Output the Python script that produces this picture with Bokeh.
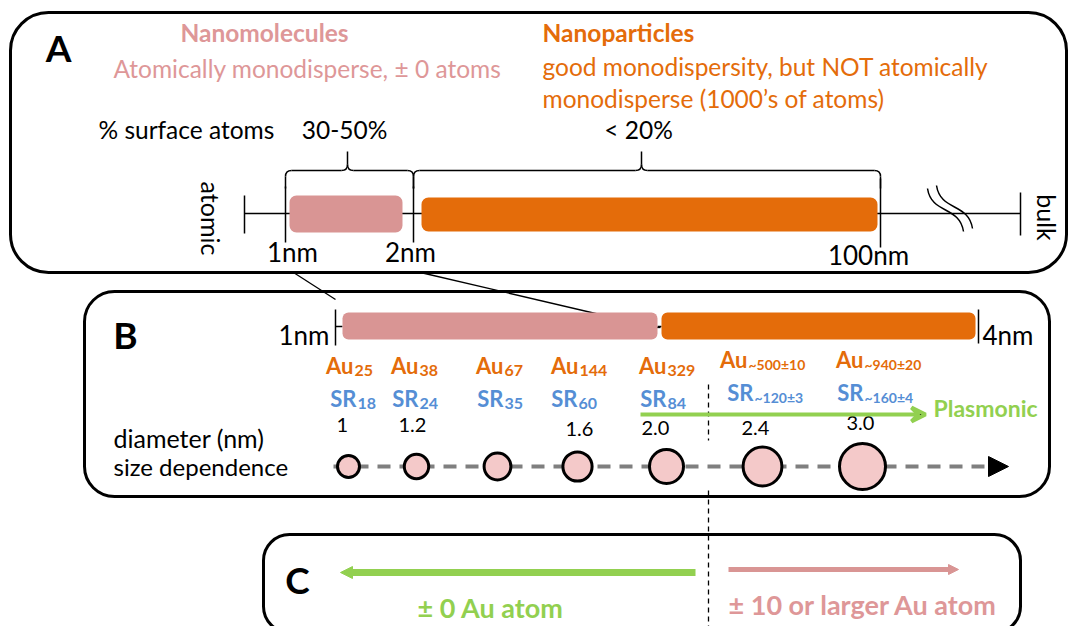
import numpy as np
from bokeh.plotting import figure
from bokeh.models import Range1d, BoxAnnotation, Arrow, VeeHead, NormalHead
from bokeh.core.properties import value
from bokeh.embed import file_html
from bokeh.resources import INLINE

# ------------------------------------------------------------------ data
class_names = ["Nanomolecules", "Nanoparticles"]
class_notes = [["Atomically monodisperse, ± 0 atoms"],
               ["good monodispersity, but NOT atomically",
                "monodisperse (1000’s of atoms)"]]
class_start_nm = [1, 2]
class_end_nm = [2, 100]
surface_atoms = ["30-50%", "< 20%"]
a_tick_nm = [1, 2, 100]
a_tick_labels = ["1nm", "2nm", "100nm"]
a_end_labels = ["atomic", "bulk"]
b_tick_labels = ["1nm", "4nm"]

au_atoms = ["25", "38", "67", "144", "329", "~500±10", "~940±20"]
sr_ligands = ["18", "24", "35", "60", "84", "~120±3", "~160±4"]
diameter_labels = ["1", "1.2", "", "1.6", "2.0", "2.4", "3.0"]
diameter_nm = [1.0, 1.2, 1.4, 1.6, 2.0, 2.4, 3.0]
regime_labels = ["± 0 Au atom", "± 10 or larger Au atom"]

# ------------------------------------------------------------------ layout / style
W, H = 1068, 626
FONT = value("Lato")
PINK_BAR = "#D99594"
PINK_TXT = "#DE9798"
ORANGE = "#E46C0A"
BLUE = "#558ED5"
GREEN = "#92D050"
FILL = "#F4C9C9"
GRAY = "#7F7F7F"

a_px = {1: 285, 2: 413, 100: 880}          # panel A axis positions

p = figure(width=W, height=H, x_range=Range1d(0, W), y_range=Range1d(H, 0),
           output_backend="svg", toolbar_location=None, min_border=0,
           x_axis_location=None, y_axis_location=None)
p.grid.visible = False
p.outline_line_color = None
p.background_fill_color = "white"


def txt(x, y, s, size, color="black", bold=False, align="left", angle=0.0):
    p.text(x=[x], y=[y], text=[s], text_font=FONT, text_font_size=f"{size}px",
           text_color=color, text_align=align, text_baseline="middle",
           text_font_style="bold" if bold else "normal", angle=angle)


# ------------------------------------------------------------------ panels
for (l, r, t, b, rad) in [(10, 1066, 12, 272, 38), (84, 1049, 291, 496, 30),
                          (263, 1020, 534, 632, 26)]:
    p.add_layout(BoxAnnotation(left=l, right=r, top=t, bottom=b, fill_alpha=0,
                               line_color="black", line_width=3, line_alpha=1,
                               border_radius=rad))

txt(58, 47, "A", 37, bold=True, align="center")
txt(125, 334, "B", 37, bold=True, align="center")
txt(297, 579, "C", 37, bold=True, align="center")

# ------------------------------------------------------------------ panel A texts
txt(264, 32, class_names[0], 24.5, PINK_TXT, bold=True, align="center")
txt(113, 68, class_notes[0][0], 24.5, PINK_TXT)
txt(542, 32, class_names[1], 24.5, ORANGE, bold=True)
txt(542, 66, class_notes[1][0], 24.5, ORANGE)
txt(542, 98, class_notes[1][1], 24.5, ORANGE)
txt(98, 129, "% surface atoms", 24.5)
brace_peaks = [347, 641]
for s, pk in zip(surface_atoms, brace_peaks):
    txt(pk - 3, 129, s, 24.5, align="center")

# axis
p.segment(x0=[244], y0=[213], x1=[1020], y1=[213], line_color="black", line_width=1.5)
p.segment(x0=[244, 1020] + [a_px[n] for n in a_tick_nm],
          y0=[195, 192, 186, 186, 178],
          x1=[244, 1020] + [a_px[n] for n in a_tick_nm],
          y1=[233, 235, 242, 242, 247], line_color="black", line_width=1.5)

ins_l = [4, 8]
ins_r = [11, 3]
p.quad(left=[a_px[s] + il for s, il in zip(class_start_nm, ins_l)],
       right=[a_px[e] - ir for e, ir in zip(class_end_nm, ins_r)],
       top=[195, 197], bottom=[232, 231], fill_color=[PINK_BAR, ORANGE],
       line_color=None, border_radius=7)

# braces
def brace(x0, x1, xm, yh=170, yend=188, ypk=151, r=6):
    p.multi_line(xs=[[x0, x0], [x0 + r, xm - r], [xm, xm], [xm + r, x1 - r], [x1, x1]],
                 ys=[[yend, yh + r], [yh, yh], [yh - r, ypk], [yh, yh], [yh + r, yend]],
                 line_color="black", line_width=1.5)
    p.quadratic(x0=[x0, xm - r, xm + r, x1 - r], y0=[yh + r, yh, yh, yh],
                x1=[x0 + r, xm, xm, x1], y1=[yh, yh - r, yh - r, yh + r],
                cx=[x0, xm, xm, x1], cy=[yh, yh, yh, yh],
                line_color="black", line_width=1.5)

brace(a_px[1], a_px[2], brace_peaks[0])
brace(a_px[2], a_px[100], brace_peaks[1])

# axis break
p.bezier(x0=[927, 936], y0=[188, 185], x1=[963, 972], y1=[231, 228],
         cx0=[931, 940], cy0=[214, 211], cx1=[959, 968], cy1=[205, 202],
         line_color="black", line_width=1.5)

for lab, cx in zip(a_tick_labels, [292, 410, 868]):
    txt(cx, 251 if lab != "100nm" else 254, lab, 26, align="center")
txt(210, 218, a_end_labels[0], 25, align="center", angle=-np.pi / 2)
txt(1046, 217, a_end_labels[1], 25, align="center", angle=-np.pi / 2)

# zoom lines
p.segment(x0=[293, 420, 655], y0=[272, 272, 327], x1=[335, 655, 660], y1=[299, 327, 327],
          line_color="black", line_width=1.3)

# ------------------------------------------------------------------ panel B
p.segment(x0=[335, 978, 335, 657], y0=[309, 309, 326, 326],
          x1=[335, 978, 342, 661], y1=[345, 343, 326, 326],
          line_color="black", line_width=1.5)
p.quad(left=[342, 661], right=[657, 975], top=[312, 312], bottom=[339, 339],
       fill_color=[PINK_BAR, ORANGE], line_color=None, border_radius=6)
txt(329, 334, b_tick_labels[0], 26, align="right")
txt(982, 334, b_tick_labels[1], 26)

au_anchor = [353, 418, 503, 578, 666, 747, 863]
au_y = [365, 365, 365, 365, 365, 359, 359]
sr_anchor = [356, 418, 503, 577, 666, 753, 863]
sr_y = [398, 398, 398, 398, 398, 392, 392]
sub_size = ["16px" if len(s) <= 3 else "14px" for s in au_atoms]
sr_sub_size = ["16px" if len(s) <= 3 else "14px" for s in sr_ligands]

p.text(x=au_anchor, y=au_y, text=["Au"] * len(au_atoms), text_font=FONT,
       text_font_size="22px", text_font_style="bold", text_color=ORANGE,
       text_align="right", text_baseline="middle")
p.text(x=[a + 1 for a in au_anchor], y=[y + 5 for y in au_y], text=au_atoms,
       text_font=FONT, text_font_size=sub_size, text_font_style="bold",
       text_color=ORANGE, text_align="left", text_baseline="middle")
p.text(x=sr_anchor, y=sr_y, text=["SR"] * len(sr_ligands), text_font=FONT,
       text_font_size="22px", text_font_style="bold", text_color=BLUE,
       text_align="right", text_baseline="middle")
p.text(x=[a + 1 for a in sr_anchor], y=[y + 5 for y in sr_y], text=sr_ligands,
       text_font=FONT, text_font_size=sr_sub_size, text_font_style="bold",
       text_color=BLUE, text_align="left", text_baseline="middle")

d_x = [336, 398, 0, 565, 641, 741, 846]
d_y = [424, 424, 0, 428, 427, 427, 422]
keep = [i for i, s in enumerate(diameter_labels) if s]
p.text(x=[d_x[i] for i in keep], y=[d_y[i] for i in keep],
       text=[diameter_labels[i] for i in keep], text_font=FONT, text_font_size="20px",
       text_color="black", text_align="left", text_baseline="middle")

txt(113, 437, "diameter (nm)", 25)
txt(113, 466, "size dependence", 24)

# plasmonic arrow
p.add_layout(Arrow(end=VeeHead(size=14, line_color=GREEN, line_width=4),
                   x_start=640, y_start=414, x_end=925, y_end=414,
                   line_color=GREEN, line_width=4))
txt(933, 407, "Plasmonic", 23, GREEN, bold=True)

# size dependence
p.segment(x0=[333], y0=[466], x1=[990], y1=[466], line_color=GRAY, line_width=4,
          line_dash="13 9")
circ_x = [348, 416, 497, 577, 666, 762, 862]
p.scatter(x=circ_x, y=[466] * len(circ_x), size=[10 + 12 * d for d in diameter_nm],
          marker="circle", fill_color=FILL, line_color="black", line_width=3)
p.add_layout(Arrow(end=NormalHead(size=20, fill_color="black", line_color="black"),
                   x_start=985, y_start=466, x_end=1008, y_end=466,
                   line_alpha=0, line_width=1))

# boundary dashed line
p.segment(x0=[708, 708], y0=[384, 490], x1=[708, 708], y1=[440, 634],
          line_color="black", line_width=1.3, line_dash="5 4")

# ------------------------------------------------------------------ panel C
p.add_layout(Arrow(end=NormalHead(size=12, fill_color=GREEN, line_color=GREEN),
                   x_start=695, y_start=572, x_end=340, y_end=572,
                   line_color=GREEN, line_width=7))
p.add_layout(Arrow(end=NormalHead(size=10, fill_color=PINK_BAR, line_color=PINK_BAR),
                   x_start=728, y_start=569, x_end=958, y_end=569,
                   line_color=PINK_BAR, line_width=5))
txt(417, 607, regime_labels[0], 27, GREEN, bold=True)
txt(728, 604, regime_labels[1], 27, PINK_TXT, bold=True)

open("out.html", "w").write(file_html(p, INLINE))
